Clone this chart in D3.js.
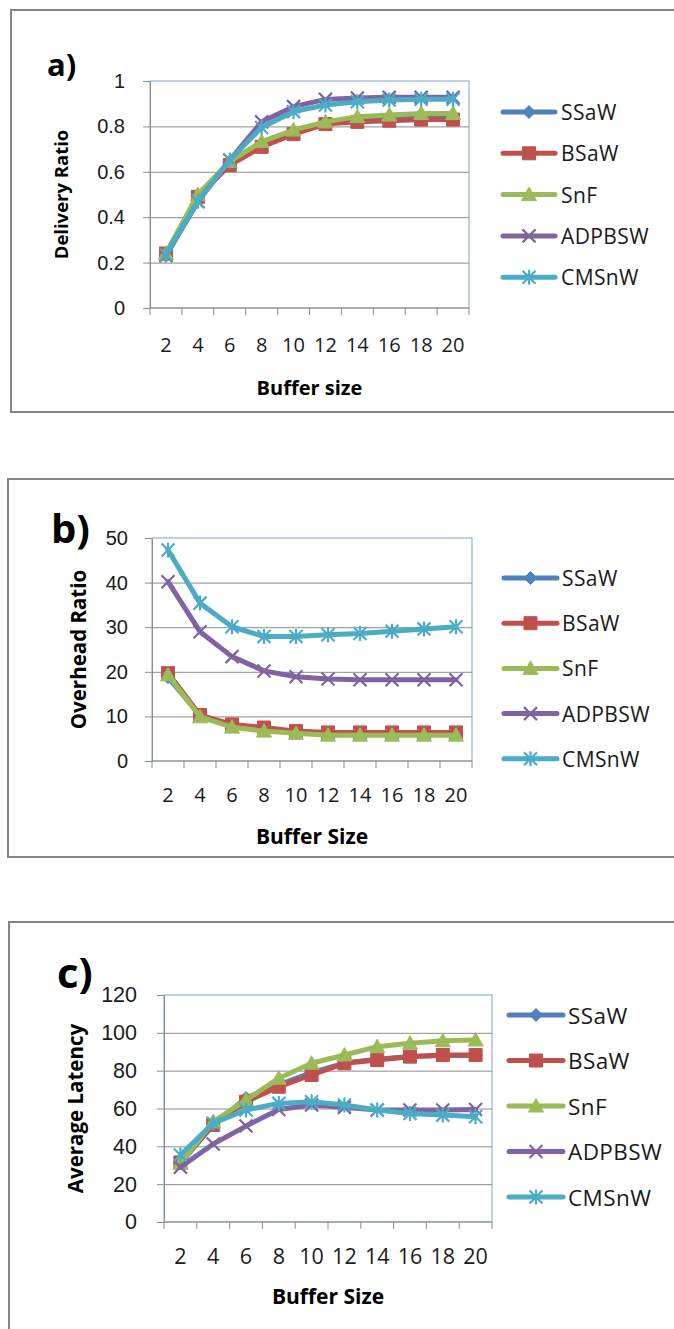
<!DOCTYPE html>
<html>
<head>
<meta charset="utf-8">
<script src="https://cdn.jsdelivr.net/npm/d3@7"></script>
<style>
  body { margin: 0; background: #fff; }
  svg { display: block; font-family: "Open Sans", sans-serif; }
</style>
</head>
<body>
<script>
// Categories and series
const bufferSizes = [2, 4, 6, 8, 10, 12, 14, 16, 18, 20];
const seriesNames = ['SSaW', 'BSaW', 'SnF', 'ADPBSW', 'CMSnW'];
const seriesColors = ['#4f81bd', '#c0504d', '#9bbb59', '#8064a2', '#4bacc6'];
const seriesMarkers = ['diamond', 'square', 'triangle', 'x', 'star'];

// a) delivery ratio, one row per series (same order as seriesNames)
const deliveryRatio = [
  [0.23, 0.48, 0.64, 0.72, 0.775, 0.815, 0.83, 0.835, 0.84, 0.84],
  [0.24, 0.49, 0.63, 0.71, 0.766, 0.81, 0.82, 0.825, 0.83, 0.83],
  [0.24, 0.50, 0.645, 0.733, 0.784, 0.82, 0.843, 0.85, 0.857, 0.857],
  [0.23, 0.468, 0.652, 0.82, 0.887, 0.919, 0.925, 0.928, 0.928, 0.928],
  [0.235, 0.47, 0.652, 0.795, 0.865, 0.894, 0.909, 0.916, 0.92, 0.92]
];
// b) overhead ratio
const overheadRatio = [
  [18.8, 10.2, 7.8, 6.9, 6.4, 6.1, 6.0, 6.0, 6.0, 6.0],
  [19.7, 10.3, 8.2, 7.5, 6.7, 6.4, 6.4, 6.4, 6.4, 6.4],
  [19.3, 9.9, 7.6, 6.7, 6.2, 5.8, 5.8, 5.8, 5.8, 5.8],
  [40.2, 29.0, 23.4, 20.2, 18.9, 18.4, 18.2, 18.2, 18.2, 18.2],
  [47.3, 35.4, 30.1, 27.9, 27.9, 28.3, 28.6, 29.1, 29.6, 30.1]
];
// c) average latency
const averageLatency = [
  [31, 51.5, 65.5, 72.5, 79, 84, 86, 87.5, 88, 88],
  [31.5, 51.3, 63.6, 71.5, 77.7, 83.9, 85.6, 87.4, 88.3, 88.3],
  [31, 53, 64.5, 76, 83.9, 88.3, 92.7, 94.5, 95.8, 96.2],
  [29, 41.2, 50.7, 59.5, 61.8, 60.6, 59.2, 59.2, 59.2, 59.5],
  [35.4, 52.2, 59.2, 62.7, 63.6, 61.8, 59.2, 57.4, 56.5, 55.6]
];

const deliveryTicks = [0, 0.2, 0.4, 0.6, 0.8, 1];
const overheadTicks = [0, 10, 20, 30, 40, 50];
const latencyTicks = [0, 20, 40, 60, 80, 100, 120];

// Layout of each panel (page coordinates)
const panels = [
  {
    tag: 'a)', tagX: 47, tagY: 76, tagSize: 31,
    values: deliveryRatio, ticks: deliveryTicks,
    yTitle: 'Delivery Ratio', yTitleX: 60, yTitleSize: 18.5,
    xTitle: 'Buffer size', xTitleY: 395, xTitleSize: 20,
    frame: { x: 11, y: 10, h: 402 },
    plot: { l: 150, t: 81, r: 469, b: 308 },
    tickLabelY: 352, tickPad: 18, fontSize: 20, legendSize: 21,
    legend: { x0: 503, x1: 555, tx: 561, y0: 112, dy: 41.3 }
  },
  {
    tag: 'b)', tagX: 51, tagY: 543, tagSize: 40,
    values: overheadRatio, ticks: overheadTicks,
    yTitle: 'Overhead Ratio', yTitleX: 78, yTitleSize: 20.5,
    xTitle: 'Buffer Size', xTitleY: 844, xTitleSize: 21,
    frame: { x: 8, y: 479, h: 378 },
    plot: { l: 152, t: 538, r: 472, b: 761 },
    tickLabelY: 802, tickPad: 17, fontSize: 20, legendSize: 21,
    legend: { x0: 504, x1: 557, tx: 562, y0: 578, dy: 45.2 }
  },
  {
    tag: 'c)', tagX: 57, tagY: 988, tagSize: 42,
    values: averageLatency, ticks: latencyTicks,
    yTitle: 'Average Latency', yTitleX: 75, yTitleSize: 20.5,
    xTitle: 'Buffer Size', xTitleY: 1304, xTitleSize: 21,
    frame: { x: 9, y: 922, h: 430 },
    plot: { l: 164, t: 995, r: 492, b: 1222 },
    tickLabelY: 1264, tickPad: 20, fontSize: 21.5, legendSize: 22.5,
    legend: { x0: 509, x1: 563, tx: 568, y0: 1015, dy: 45.5 }
  }
];

const svg = d3.select('body').append('svg')
  .attr('width', 674)
  .attr('height', 1329);

// Marker path for a given type, centred on 0,0
function markerPath(type) {
  if (type === 'diamond') return 'M0,-6.5L6.5,0L0,6.5L-6.5,0Z';
  if (type === 'square') return 'M-6.5,-6.5H6.5V6.5H-6.5Z';
  if (type === 'triangle') return 'M0,-7.5L7.5,6L-7.5,6Z';
  if (type === 'x') return 'M-6.5,-6.5L6.5,6.5M-6.5,6.5L6.5,-6.5';
  return 'M-6.5,-6.5L6.5,6.5M-6.5,6.5L6.5,-6.5M0,-7.5V7.5';
}

function drawMarker(g, type, color, cx, cy) {
  const filled = type !== 'x' && type !== 'star';
  g.append('path')
    .attr('transform', 'translate(' + cx + ',' + cy + ')')
    .attr('d', markerPath(type))
    .attr('fill', filled ? color : 'none')
    .attr('stroke', color)
    .attr('stroke-width', filled ? 1 : 2.2);
}

function drawPanel(p) {
  const g = svg.append('g');
  const w = p.plot.r - p.plot.l;
  const h = p.plot.b - p.plot.t;

  // Outer frame, runs off the right edge like the original
  g.append('rect')
    .attr('x', p.frame.x)
    .attr('y', p.frame.y)
    .attr('width', 700)
    .attr('height', p.frame.h)
    .attr('fill', 'none')
    .attr('stroke', '#858585')
    .attr('stroke-width', 2);

  const x = d3.scaleBand()
    .domain(bufferSizes)
    .range([p.plot.l, p.plot.r]);
  const y = d3.scaleLinear()
    .domain([0, d3.max(p.ticks)])
    .range([p.plot.b, p.plot.t]);

  // Plot area border (light blue)
  g.append('rect')
    .attr('x', p.plot.l)
    .attr('y', p.plot.t)
    .attr('width', w)
    .attr('height', h)
    .attr('fill', 'none')
    .attr('stroke', '#7fa3d6')
    .attr('stroke-width', 1);

  // Gridlines
  g.append('g')
    .attr('transform', 'translate(' + p.plot.l + ',0)')
    .call(d3.axisLeft(y).tickValues(p.ticks.slice(1, -1)).tickSize(-w).tickFormat(''))
    .call(s => s.select('.domain').remove())
    .selectAll('line')
    .attr('stroke', '#8c8c8c');

  // Y axis with outward ticks and labels
  const yAxis = g.append('g')
    .attr('transform', 'translate(' + p.plot.l + ',0)')
    .call(d3.axisLeft(y).tickValues(p.ticks).tickSize(7).tickPadding(p.tickPad)
      .tickSizeOuter(0).tickFormat(d3.format('~g')));
  yAxis.select('.domain').attr('stroke', '#8c8c8c');
  yAxis.selectAll('line').attr('stroke', '#8c8c8c');
  yAxis.selectAll('text')
    .attr('fill', '#1a1a1a')
    .style('font-size', p.fontSize + 'px');

  // X axis: line, ticks on category boundaries, labels well below
  g.append('line')
    .attr('x1', p.plot.l).attr('x2', p.plot.r)
    .attr('y1', p.plot.b).attr('y2', p.plot.b)
    .attr('stroke', '#8c8c8c');
  const bounds = bufferSizes.map(d => x(d)).concat([x.range()[1]]);
  g.append('g').selectAll('line')
    .data(bounds)
    .join('line')
    .attr('x1', d => d).attr('x2', d => d)
    .attr('y1', p.plot.b).attr('y2', p.plot.b + 7)
    .attr('stroke', '#8c8c8c');
  g.append('g').selectAll('text')
    .data(bufferSizes)
    .join('text')
    .attr('x', d => x(d) + x.bandwidth() / 2)
    .attr('y', p.tickLabelY)
    .attr('text-anchor', 'middle')
    .attr('fill', '#1a1a1a')
    .style('font-size', p.fontSize + 'px')
    .text(d => d);

  // Series lines and markers
  const line = d3.line()
    .x((d, i) => x(bufferSizes[i]) + x.bandwidth() / 2)
    .y(d => y(d));
  p.values.forEach((vals, si) => {
    const color = seriesColors[si];
    g.append('path')
      .datum(vals)
      .attr('d', line)
      .attr('fill', 'none')
      .attr('stroke', color)
      .attr('stroke-width', 5)
      .attr('stroke-linejoin', 'round')
      .attr('stroke-linecap', 'round');
    const mg = g.append('g');
    vals.forEach((v, i) => {
      drawMarker(mg, seriesMarkers[si], color,
        x(bufferSizes[i]) + x.bandwidth() / 2, y(v));
    });
  });

  // Titles
  g.append('text')
    .attr('x', (p.plot.l + p.plot.r) / 2)
    .attr('y', p.xTitleY)
    .attr('text-anchor', 'middle')
    .style('font-size', p.xTitleSize + 'px')
    .style('font-weight', 'bold')
    .text(p.xTitle);
  g.append('text')
    .attr('transform', 'translate(' + p.yTitleX + ',' + (p.plot.t + p.plot.b) / 2 + ') rotate(-90)')
    .attr('text-anchor', 'middle')
    .attr('dominant-baseline', 'central')
    .style('font-size', p.yTitleSize + 'px')
    .style('font-weight', 'bold')
    .text(p.yTitle);
  g.append('text')
    .attr('x', p.tagX)
    .attr('y', p.tagY)
    .style('font-size', p.tagSize + 'px')
    .style('font-weight', 'bold')
    .text(p.tag);

  // Legend
  seriesNames.forEach((name, si) => {
    const ly = p.legend.y0 + si * p.legend.dy;
    g.append('line')
      .attr('x1', p.legend.x0).attr('x2', p.legend.x1)
      .attr('y1', ly).attr('y2', ly)
      .attr('stroke', seriesColors[si])
      .attr('stroke-width', 5)
      .attr('stroke-linecap', 'round');
    drawMarker(g, seriesMarkers[si], seriesColors[si], (p.legend.x0 + p.legend.x1) / 2, ly);
    g.append('text')
      .attr('x', p.legend.tx)
      .attr('y', ly)
      .attr('dominant-baseline', 'central')
      .attr('fill', '#1a1a1a')
      .style('font-size', p.legendSize + 'px')
      .style('letter-spacing', '0.4px')
      .text(name);
  });
}

panels.forEach(drawPanel);
</script>
</body>
</html>
